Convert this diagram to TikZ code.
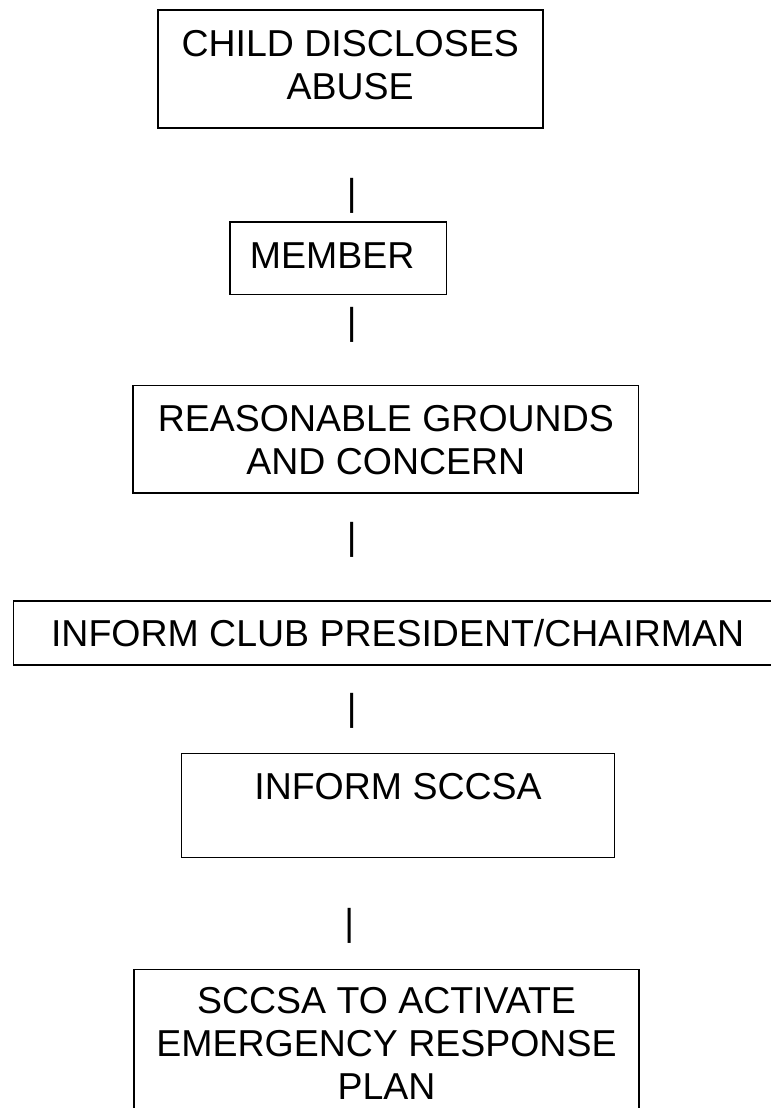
\documentclass[tikz,border=0pt]{standalone}
\usepackage{fontspec}
\setmainfont{Liberation Sans}
\usepackage{tikz}

\begin{document}
\begin{tikzpicture}
[
    x=0.75pt, y=-0.75pt,
    font=\fontsize{28.1pt}{32.25pt}\selectfont,
    bx/.style={draw, line width=1.2pt, align=center, inner sep=0pt}, % bx = box
    vb/.style={inner sep=0pt},                                        % vb = vertical bar
]
\useasboundingbox (0,0) rectangle (771,1108);
\clip (0,0) rectangle (771,1108);

\node [bx, minimum width=288.75pt, text height=66.75pt, text depth=21.75pt] (child) at (350.2,69) {CHILD DISCLOSES\\ABUSE};
\node [vb] (bar1) at (351.7,196) {|};
\node [bx, minimum width=162.5pt, text height=34.7pt, text depth=20pt] (member) at (338.3,258.2) {MEMBER\kern 9.2pt};
\node [vb] (bar2) at (351.7,325) {|};
\node [bx, minimum width=379pt, text height=67pt, text depth=13.5pt] (grounds) at (385.9,439.3) {REASONABLE GROUNDS\\AND CONCERN};
\node [vb] (bar3) at (351.8,539.5) {|};
\node [bx, minimum width=576.5pt, text height=34.5pt, text depth=13.7pt] (president) at (397.65,632.85) {INFORM CLUB PRESIDENT/CHAIRMAN};
\node [vb] (bar4) at (351.7,710.5) {|};
\node [bx, minimum width=324.5pt, text height=34.3pt, text depth=43.7pt] (sccsa) at (398,805.3) {INFORM SCCSA};
\node [vb] (bar5) at (349.3,925.5) {|};
\node [bx, minimum width=378.8pt, text height=97.3pt, text depth=19.5pt] (plan) at (386.5,1047.2) {SCCSA TO ACTIVATE\\EMERGENCY RESPONSE\\PLAN};
\end{tikzpicture}
\end{document}
